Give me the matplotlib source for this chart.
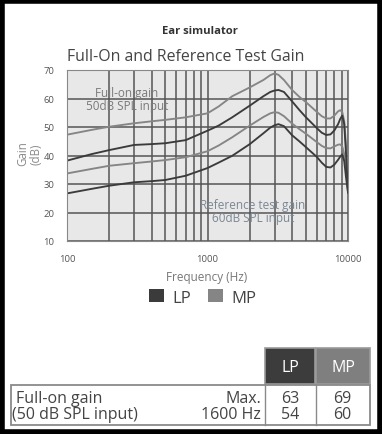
import matplotlib
matplotlib.use("Agg")
import matplotlib.pyplot as plt
from matplotlib.patches import Rectangle
from matplotlib.ticker import FixedLocator, NullFormatter

plt.rcParams['font.family'] = ['Open Sans', 'DejaVu Sans']

# ---- data ----
freq = [100, 150, 200, 300, 400, 500, 700, 1000, 1200, 1500, 2000, 2500, 2800, 3000,
        3200, 3500, 4000, 4500, 5000, 6000, 6500, 7000, 7500, 8000, 8500, 8800, 9100,
        9400, 9700, 10000]
mp_full = [47.3, 49.0, 50.1, 51.3, 52.0, 52.5, 53.4, 54.8, 57.2, 60.8, 63.9, 66.5, 68.2, 68.8,
           68.3, 66.5, 63.0, 60.6, 58.8, 55.3, 53.8, 53.0, 53.0, 54.0, 55.5, 55.9, 55.3,
           52.0, 43.0, 30.0]
lp_full = [38.2, 40.5, 41.9, 43.7, 44.0, 44.3, 45.4, 48.7, 50.5, 53.4, 57.5, 60.8, 62.3, 62.8,
           63.0, 62.3, 59.0, 56.0, 53.5, 49.6, 48.0, 47.2, 47.4, 48.8, 51.0, 52.8, 54.0,
           51.0, 40.0, 27.0]
mp_ref = [33.7, 35.3, 36.4, 37.3, 37.9, 38.4, 39.4, 41.5, 43.5, 46.4, 50.5, 53.5, 54.8, 55.2,
          55.0, 53.8, 51.2, 49.3, 47.7, 44.7, 43.4, 42.6, 42.5, 43.2, 43.8, 43.9, 43.2,
          40.5, 35.0, 28.0]
lp_ref = [26.7, 28.3, 29.4, 30.6, 31.0, 31.4, 32.9, 35.6, 37.5, 39.9, 44.0, 47.8, 49.8, 50.6,
          51.0, 50.3, 47.1, 45.0, 43.0, 39.5, 37.5, 36.0, 35.8, 36.8, 38.5, 39.6, 40.4,
          38.0, 32.0, 27.0]

y_ticks = [10, 20, 30, 40, 50, 60, 70]
x_ticks = [100, 1000, 10000]
x_ticklabels = ["100", "1000", "10000"]

table_cols = ["LP", "MP"]
row_labels = ["Full-on gain", "(50 dB SPL input)"]
row_conds = ["Max.", "1600 Hz"]
lp_vals = ["63", "54"]
mp_vals = ["69", "60"]

LP_COL = "#3b3b3b"
MP_COL = "#858585"
GRID = "#555555"
TXT = "#444444"

W, H = 382, 435
fig = plt.figure(figsize=(W / 100, H / 100), dpi=100)

def fx(px):
    return px / W

def fy(py):
    return 1 - py / H

# outer frame
fig.add_artist(Rectangle((0.004, 0.004), 0.992, 0.992, transform=fig.transFigure,
                         fill=False, edgecolor="black", linewidth=4))

ax = fig.add_axes([fx(67), fy(242), fx(348) - fx(67), fy(71) - fy(242)])
ax.set_facecolor("#e8e8e8")
ax.set_xscale("log")
ax.set_xlim(100, 10000)
ax.set_ylim(10, 70)
ax.xaxis.set_major_locator(FixedLocator(x_ticks))
ax.set_xticklabels(x_ticklabels)
minors = [m * d for d in (100, 1000) for m in range(2, 10)]
ax.xaxis.set_minor_locator(FixedLocator(minors))
ax.xaxis.set_minor_formatter(NullFormatter())
ax.set_yticks(y_ticks)
ax.grid(True, which="both", axis="x", color=GRID, linewidth=1.1)
ax.grid(True, which="major", axis="y", color=GRID, linewidth=1.1)
ax.set_axisbelow(True)
ax.tick_params(axis="y", which="both", length=0, labelsize=6.8, colors="#555555", pad=9)
ax.tick_params(axis="x", which="both", length=0, labelsize=6.8, colors="#555555", pad=9.5)
for s in ax.spines.values():
    s.set_color("#888888")
    s.set_linewidth(0.8)

ax.plot(freq, mp_full, color=MP_COL, lw=1.35)
ax.plot(freq, mp_ref, color=MP_COL, lw=1.35)
ax.plot(freq, lp_full, color=LP_COL, lw=1.35)
ax.plot(freq, lp_ref, color=LP_COL, lw=1.35)

ax.text(fx(127), fy(100), "Full-on gain\n50dB SPL input", transform=fig.transFigure,
        ha="center", va="center", fontsize=8.5, color="#7a7a7a", linespacing=1.0)
ax.text(fx(253), fy(212), "Reference test gain\n60dB SPL input", transform=fig.transFigure,
        ha="center", va="center", fontsize=8.5, color="#7b8794", linespacing=1.0)

# titles
fig.text(fx(200), fy(32), "Ear simulator", ha="center", va="center",
         fontsize=8.1, fontweight="bold", color="#333333")
fig.text(fx(186), fy(57), "Full-On and Reference Test Gain", ha="center", va="center",
         fontsize=11.4, color=TXT)
fig.text(fx(29), fy(154), "Gain\n(dB)", ha="center", va="center", rotation=90,
         fontsize=8.3, color="#8a8a8a", linespacing=1.0)
fig.text(fx(207), fy(278), "Frequency (Hz)", ha="center", va="center",
         fontsize=8.5, color="#777777")

# legend
fig.add_artist(Rectangle((fx(149), fy(303)), fx(15), 13 / H, transform=fig.transFigure,
                         facecolor=LP_COL, edgecolor="none"))
fig.text(fx(172), fy(303), table_cols[0], ha="left", va="baseline", fontsize=12, color=TXT)
fig.add_artist(Rectangle((fx(208), fy(303)), fx(15), 13 / H, transform=fig.transFigure,
                         facecolor=MP_COL, edgecolor="none"))
fig.text(fx(231), fy(303), table_cols[1], ha="left", va="baseline", fontsize=12, color=TXT)

# table
hx = [265, 316]
hw = [50, 54]
hcol = ["#3c3c3c", "#7f7f7f"]
for i in range(2):
    fig.add_artist(Rectangle((fx(hx[i]), fy(385)), fx(hw[i]), (385 - 349) / H,
                             transform=fig.transFigure, facecolor=hcol[i],
                             edgecolor="#999999", linewidth=1.2))
    fig.text(fx(hx[i] + hw[i] / 2), fy(372), table_cols[i], ha="center", va="baseline",
             fontsize=11.5, color="white")

fig.add_artist(Rectangle((fx(11), fy(426)), fx(370 - 11), (426 - 386) / H,
                         transform=fig.transFigure, fill=False,
                         edgecolor="#8a8a8a", linewidth=1.3))
for xv in (265, 316):
    fig.add_artist(plt.Line2D([fx(xv), fx(xv)], [fy(386), fy(426)],
                              transform=fig.transFigure, color="#8a8a8a", linewidth=1.0))
row_y = [403, 419.5]
row_x = [16, 12]
for j in range(2):
    fig.text(fx(row_x[j]), fy(row_y[j]), row_labels[j], ha="left", va="baseline",
             fontsize=11.5, color=TXT)
    fig.text(fx(261), fy(row_y[j]), row_conds[j], ha="right", va="baseline",
             fontsize=11.5, color=TXT)
    fig.text(fx(290), fy(row_y[j]), lp_vals[j], ha="center", va="baseline",
             fontsize=11.5, color=TXT)
    fig.text(fx(342), fy(row_y[j]), mp_vals[j], ha="center", va="baseline",
             fontsize=11.5, color=TXT)

fig.savefig("out.png", dpi=100, facecolor="white")
